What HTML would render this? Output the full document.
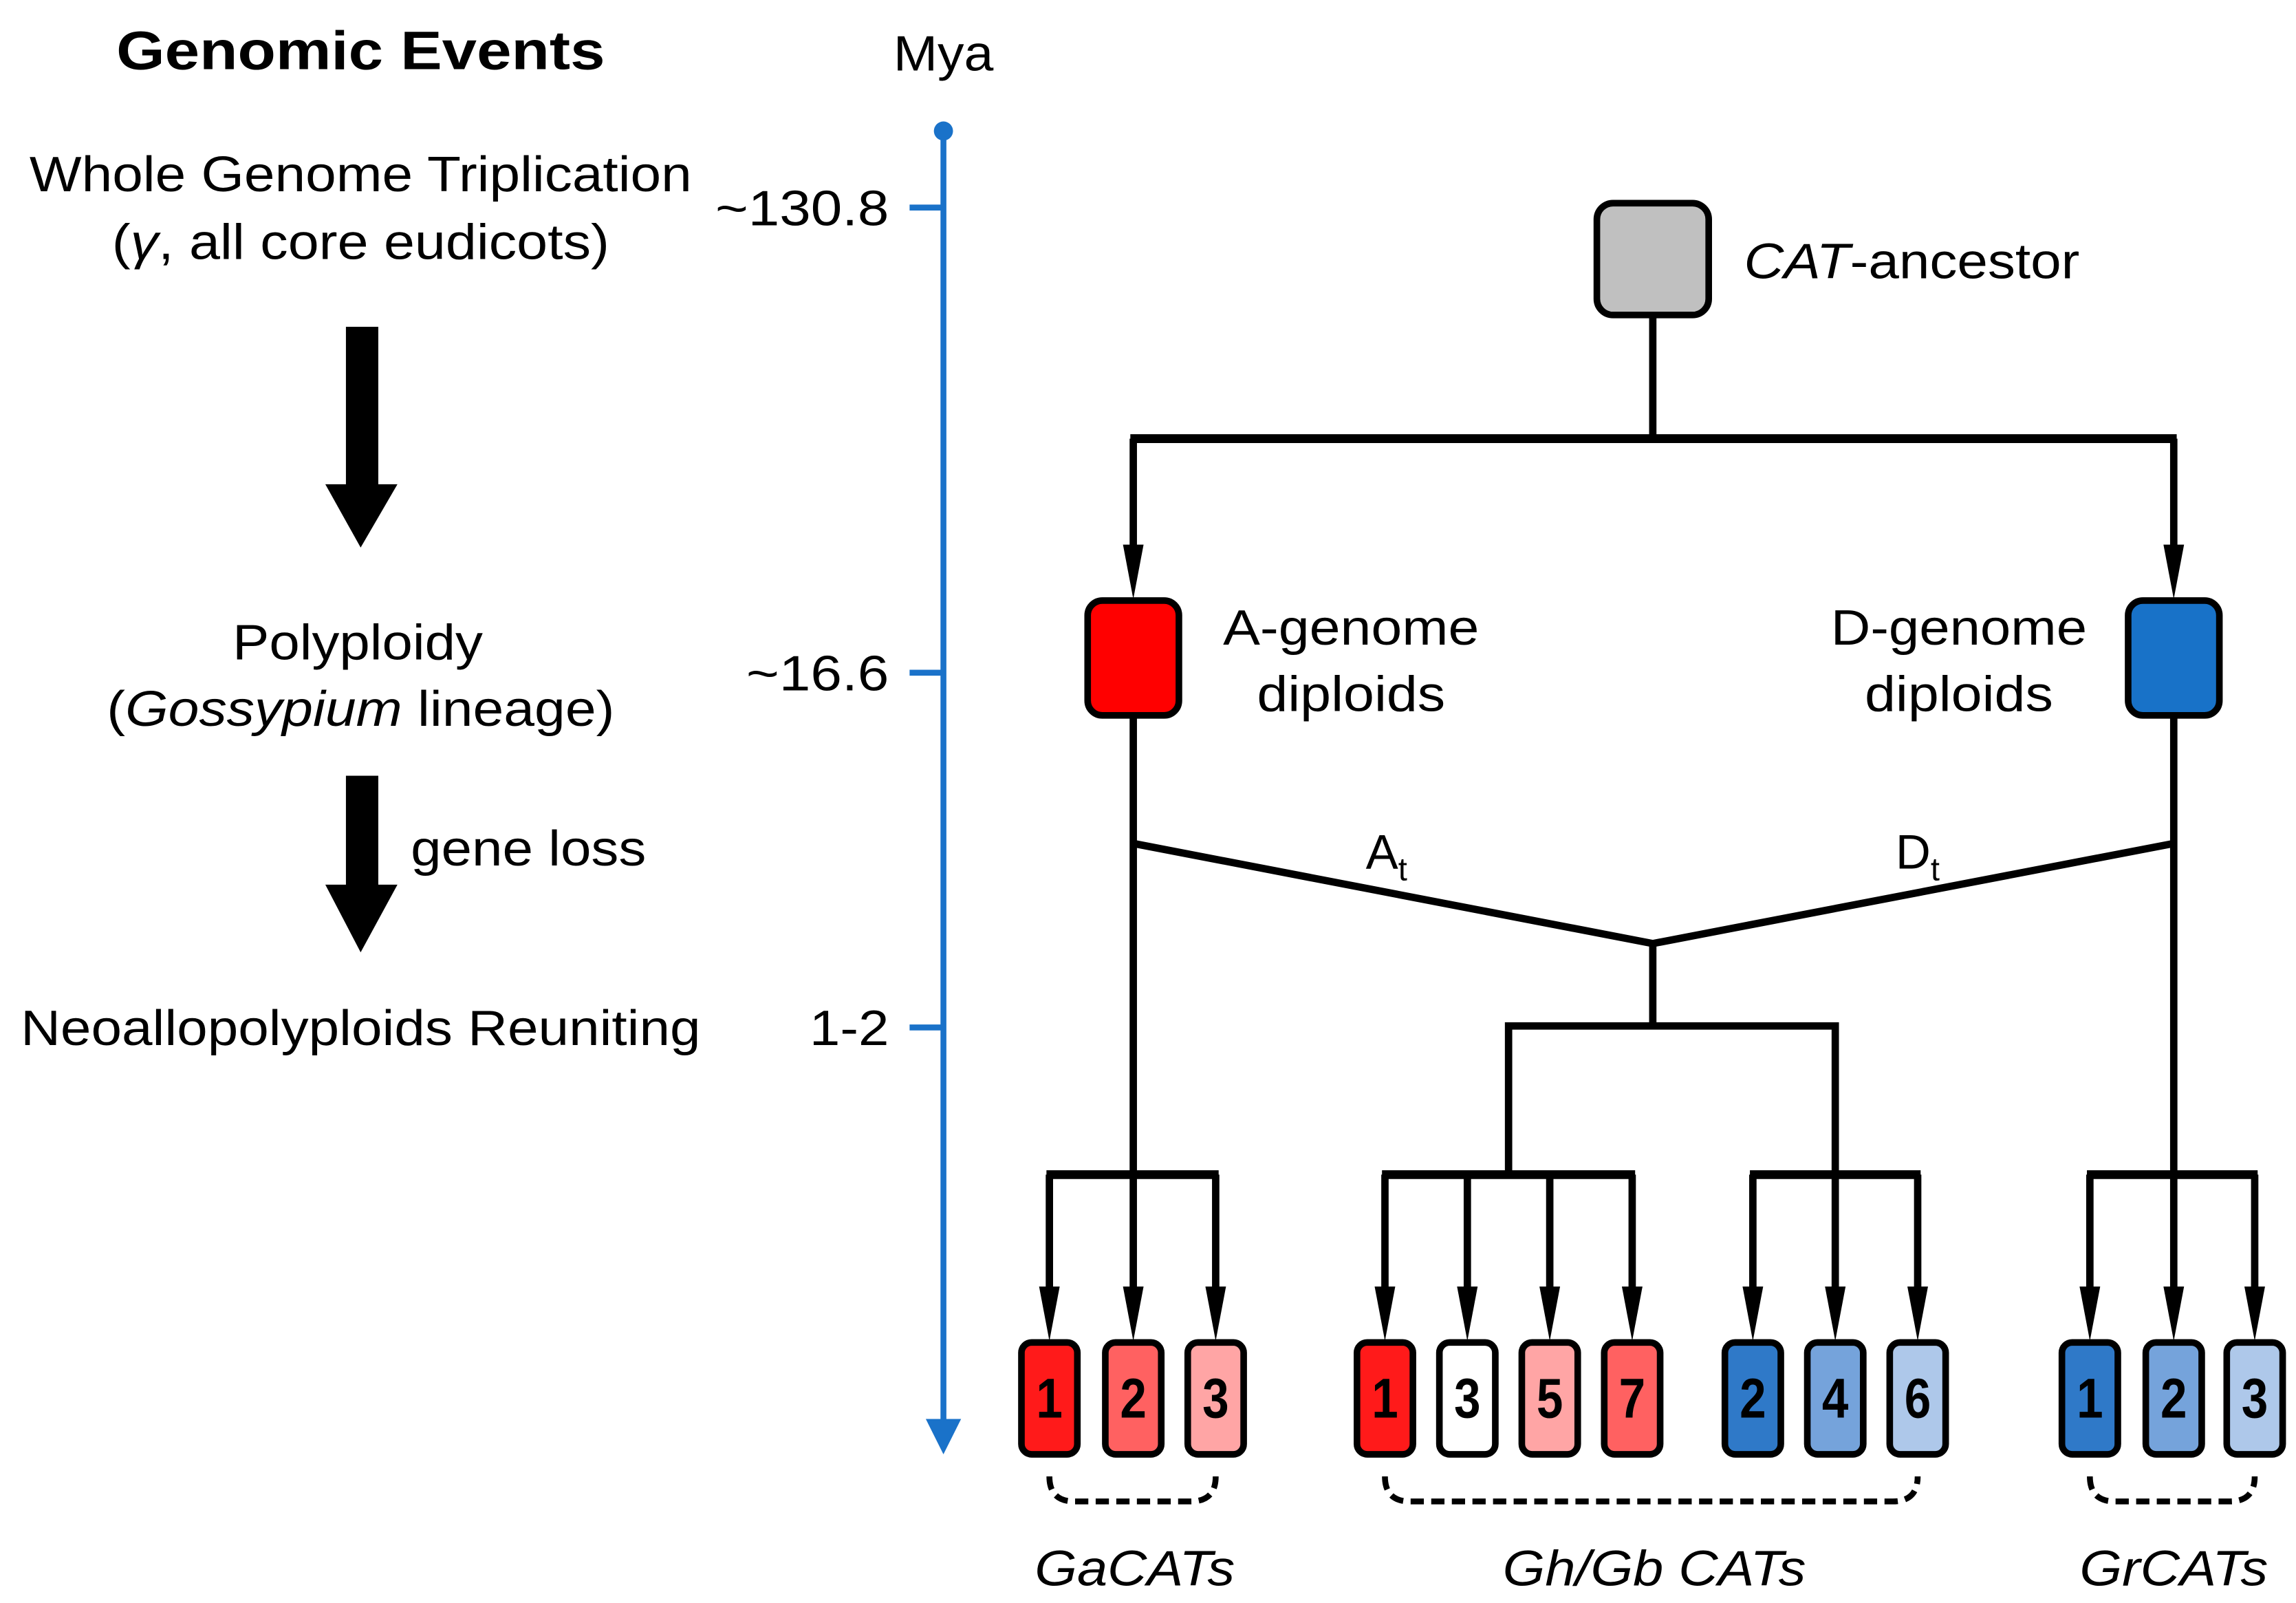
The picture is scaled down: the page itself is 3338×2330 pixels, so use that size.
<!DOCTYPE html>
<html><head><meta charset="utf-8"><style>
html,body{margin:0;padding:0;background:#fff;}
svg{display:block;}
text{font-family:"Liberation Sans",Arial,sans-serif;fill:#000;}
</style></head><body>
<svg width="3338" height="2330" viewBox="0 0 1560 1089" xmlns="http://www.w3.org/2000/svg">
<rect width="1560" height="1089" fill="#fff"/>

<!-- Left text -->
<text x="245" y="47" font-size="37" font-weight="bold" text-anchor="middle" textLength="332" lengthAdjust="spacingAndGlyphs">Genomic Events</text>
<text x="245" y="130" font-size="34" text-anchor="middle" textLength="450" lengthAdjust="spacingAndGlyphs">Whole Genome Triplication</text>
<text x="245" y="176" font-size="34" text-anchor="middle" textLength="338" lengthAdjust="spacingAndGlyphs">(<tspan font-style="italic">γ</tspan>, all core eudicots)</text>
<rect x="235" y="222" width="22" height="108" fill="#000"/>
<path d="M221,329 L270,329 L245,372 Z" fill="#000"/>
<text x="243" y="448" font-size="34" text-anchor="middle" textLength="170" lengthAdjust="spacingAndGlyphs">Polyploidy</text>
<text x="245" y="493" font-size="34" text-anchor="middle" textLength="345" lengthAdjust="spacingAndGlyphs">(<tspan font-style="italic">Gossypium</tspan> lineage)</text>
<rect x="235" y="527" width="22" height="75" fill="#000"/>
<path d="M221,601 L270,601 L245,647 Z" fill="#000"/>
<text x="279" y="588" font-size="34" textLength="160" lengthAdjust="spacingAndGlyphs">gene loss</text>
<text x="245" y="710" font-size="34" text-anchor="middle" textLength="462" lengthAdjust="spacingAndGlyphs">Neoallopolyploids Reuniting</text>

<!-- Time axis -->
<text x="641" y="48" font-size="34" text-anchor="middle" textLength="68" lengthAdjust="spacingAndGlyphs">Mya</text>
<line x1="641" y1="89" x2="641" y2="968" stroke="#1a72c9" stroke-width="4"/>
<circle cx="641" cy="89" r="6.5" fill="#1a72c9"/>
<path d="M629,964 L653,964 L641,988 Z" fill="#1a72c9"/>
<line x1="618" y1="141" x2="641" y2="141" stroke="#1a72c9" stroke-width="4"/>
<line x1="618" y1="457" x2="641" y2="457" stroke="#1a72c9" stroke-width="4"/>
<line x1="618" y1="698" x2="641" y2="698" stroke="#1a72c9" stroke-width="4"/>
<text x="604" y="153" font-size="34" text-anchor="end" textLength="118" lengthAdjust="spacingAndGlyphs">~130.8</text>
<text x="604" y="469" font-size="34" text-anchor="end" textLength="97" lengthAdjust="spacingAndGlyphs">~16.6</text>
<text x="604" y="710" font-size="34" text-anchor="end" textLength="54" lengthAdjust="spacingAndGlyphs">1-2</text>

<!-- Tree lines -->
<g stroke="#000" stroke-width="5" fill="none">
<line x1="1123" y1="214" x2="1123" y2="298"/>
<line x1="768" y1="298" x2="1479" y2="298" stroke-width="6"/>
<line x1="770" y1="298" x2="770" y2="372" />
<line x1="1477" y1="298" x2="1477" y2="372" />
<line x1="770" y1="486" x2="770" y2="878"/>
<line x1="1477" y1="486" x2="1477" y2="878"/>
<polyline points="770,573 1123,641 1477,573"/>
<line x1="1123" y1="641" x2="1123" y2="697"/>
<polyline points="1025,798 1025,697 1247,697 1247,798"/>
<line x1="711" y1="798" x2="828" y2="798" stroke-width="6"/>
<line x1="939" y1="798" x2="1111" y2="798" stroke-width="6"/>
<line x1="1189" y1="798" x2="1305" y2="798" stroke-width="6"/>
<line x1="1418" y1="798" x2="1534" y2="798" stroke-width="6"/>
<line x1="713" y1="798" x2="713" y2="878"/>
<line x1="826" y1="798" x2="826" y2="878"/>
<line x1="941" y1="798" x2="941" y2="878"/>
<line x1="997" y1="798" x2="997" y2="878"/>
<line x1="1053" y1="798" x2="1053" y2="878"/>
<line x1="1109" y1="798" x2="1109" y2="878"/>
<line x1="1191" y1="798" x2="1191" y2="878"/>
<line x1="1247" y1="798" x2="1247" y2="878"/>
<line x1="1303" y1="798" x2="1303" y2="878"/>
<line x1="1420" y1="798" x2="1420" y2="878"/>
<line x1="1532" y1="798" x2="1532" y2="878"/>
</g>
<g fill="#000">
<path d="M763,370 L777,370 L770,407 Z"/>
<path d="M1470,370 L1484,370 L1477,407 Z"/>
<path d="M706,874 L720,874 L713,911 Z"/>
<path d="M763,874 L777,874 L770,911 Z"/>
<path d="M819,874 L833,874 L826,911 Z"/>
<path d="M934,874 L948,874 L941,911 Z"/>
<path d="M990,874 L1004,874 L997,911 Z"/>
<path d="M1046,874 L1060,874 L1053,911 Z"/>
<path d="M1102,874 L1116,874 L1109,911 Z"/>
<path d="M1184,874 L1198,874 L1191,911 Z"/>
<path d="M1240,874 L1254,874 L1247,911 Z"/>
<path d="M1296,874 L1310,874 L1303,911 Z"/>
<path d="M1413,874 L1427,874 L1420,911 Z"/>
<path d="M1470,874 L1484,874 L1477,911 Z"/>
<path d="M1525,874 L1539,874 L1532,911 Z"/>
</g>

<!-- Top boxes -->
<rect x="1085" y="138" width="76" height="76" rx="11" fill="#c0c0c0" stroke="#000" stroke-width="4.5"/>
<text x="1185" y="189" font-size="34" textLength="228" lengthAdjust="spacingAndGlyphs"><tspan font-style="italic">CAT</tspan>-ancestor</text>
<rect x="739" y="408" width="62" height="78" rx="10" fill="#ff0000" stroke="#000" stroke-width="4.5"/>
<rect x="1446" y="408" width="62" height="78" rx="10" fill="#1872c8" stroke="#000" stroke-width="4.5"/>
<text x="918" y="438" font-size="34" text-anchor="middle" textLength="174" lengthAdjust="spacingAndGlyphs">A-genome</text>
<text x="918" y="483" font-size="34" text-anchor="middle" textLength="128" lengthAdjust="spacingAndGlyphs">diploids</text>
<text x="1331" y="438" font-size="34" text-anchor="middle" textLength="174" lengthAdjust="spacingAndGlyphs">D-genome</text>
<text x="1331" y="483" font-size="34" text-anchor="middle" textLength="128" lengthAdjust="spacingAndGlyphs">diploids</text>
<text x="928" y="590" font-size="33">A<tspan font-size="22" dy="8">t</tspan></text>
<text x="1288" y="590" font-size="33">D<tspan font-size="22" dy="8">t</tspan></text>

<!-- Leaf boxes -->
<g stroke="#000" stroke-width="4.5">
<rect x="694" y="912" width="38" height="76" rx="7" fill="#ff1a1a"/>
<rect x="751" y="912" width="38" height="76" rx="7" fill="#ff6161"/>
<rect x="807" y="912" width="38" height="76" rx="7" fill="#ffa5a5"/>
<rect x="922" y="912" width="38" height="76" rx="7" fill="#ff1a1a"/>
<rect x="978" y="912" width="38" height="76" rx="7" fill="#ffffff"/>
<rect x="1034" y="912" width="38" height="76" rx="7" fill="#ffa5a5"/>
<rect x="1090" y="912" width="38" height="76" rx="7" fill="#ff6161"/>
<rect x="1172" y="912" width="38" height="76" rx="7" fill="#2f79c8"/>
<rect x="1228" y="912" width="38" height="76" rx="7" fill="#75a3db"/>
<rect x="1284" y="912" width="38" height="76" rx="7" fill="#aec8ea"/>
<rect x="1401" y="912" width="38" height="76" rx="7" fill="#2f79c8"/>
<rect x="1458" y="912" width="38" height="76" rx="7" fill="#75a3db"/>
<rect x="1513" y="912" width="38" height="76" rx="7" fill="#aec8ea"/>
</g>
<g font-size="38" font-weight="bold" text-anchor="middle">
<text x="713" y="963" textLength="18" lengthAdjust="spacingAndGlyphs">1</text><text x="770" y="963" textLength="18" lengthAdjust="spacingAndGlyphs">2</text><text x="826" y="963" textLength="18" lengthAdjust="spacingAndGlyphs">3</text>
<text x="941" y="963" textLength="18" lengthAdjust="spacingAndGlyphs">1</text><text x="997" y="963" textLength="18" lengthAdjust="spacingAndGlyphs">3</text><text x="1053" y="963" textLength="18" lengthAdjust="spacingAndGlyphs">5</text><text x="1109" y="963" textLength="18" lengthAdjust="spacingAndGlyphs">7</text>
<text x="1191" y="963" textLength="18" lengthAdjust="spacingAndGlyphs">2</text><text x="1247" y="963" textLength="18" lengthAdjust="spacingAndGlyphs">4</text><text x="1303" y="963" textLength="18" lengthAdjust="spacingAndGlyphs">6</text>
<text x="1420" y="963" textLength="18" lengthAdjust="spacingAndGlyphs">1</text><text x="1477" y="963" textLength="18" lengthAdjust="spacingAndGlyphs">2</text><text x="1532" y="963" textLength="18" lengthAdjust="spacingAndGlyphs">3</text>
</g>

<!-- dashed braces -->
<g stroke="#000" stroke-width="4" fill="none" stroke-dasharray="9,5">
<path d="M713,1003 Q713,1020 730,1020 L809,1020 Q826,1020 826,1003"/>
<path d="M941,1003 Q941,1020 958,1020 L1286,1020 Q1303,1020 1303,1003"/>
<path d="M1420,1003 Q1420,1020 1437,1020 L1515,1020 Q1532,1020 1532,1003"/>
</g>
<g font-size="34" font-style="italic" text-anchor="middle">
<text x="771" y="1077" textLength="136" lengthAdjust="spacingAndGlyphs">GaCATs</text>
<text x="1124" y="1077" textLength="206" lengthAdjust="spacingAndGlyphs">Gh/Gb CATs</text>
<text x="1477" y="1077" textLength="128" lengthAdjust="spacingAndGlyphs">GrCATs</text>
</g>
</svg>
</body></html>
